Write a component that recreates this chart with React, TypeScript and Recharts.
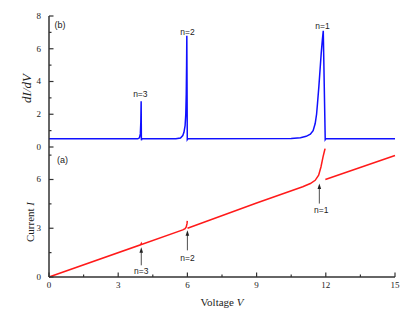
import React from 'react'
import { LineChart, Line, XAxis, YAxis, ReferenceLine, ReferenceDot } from 'recharts'

// upper panel: dI/dV against V
const topV = [0, 3.85, 3.92, 3.96, 3.98, 3.995, 4.005, 4.03, 5.5, 5.7, 5.8, 5.85, 5.9, 5.93, 5.95, 5.965, 5.975, 5.995, 6.02, 10.5, 10.9, 11.15, 11.33, 11.45, 11.54, 11.6, 11.64, 11.7, 11.76, 11.8, 11.85, 11.89, 11.975, 12.0, 15]
const topG = [0.5, 0.5, 0.56, 0.8, 1.5, 2.8, 0.42, 0.5, 0.5, 0.55, 0.7, 0.9, 1.3, 2.0, 3.2, 5.0, 6.8, 0.45, 0.5, 0.52, 0.57, 0.65, 0.78, 1.0, 1.43, 2.0, 2.66, 3.7, 4.9, 5.7, 6.53, 7.1, 0.45, 0.5, 0.5]

// lower panel: current I against V (null = break in the curve)
const botV = [0, 3.97, 4.0, 4.01, 5.8, 5.9, 5.95, 5.985, 5.995, 6.0, 6.005, 9, 11, 11.33, 11.54, 11.69, 11.79, 11.88, 11.95, 11.97, 11.975, 11.98, 15]
const botI = [0, 1.98, 2.06, 2.0, 2.9, 2.98, 3.08, 3.3, 3.45, null, 3.0, 4.55, 5.55, 5.75, 5.95, 6.26, 6.77, 7.39, 7.8, 7.9, null, 6.0, 7.48]

const xTicks = [0, 1.5, 3, 4.5, 6, 7.5, 9, 10.5, 12, 13.5, 15]
const xMajor = [0, 3, 6, 9, 12, 15]
const topYTicks = [0, 1, 2, 3, 4, 5, 6, 7, 8]
const topYMajor = [0, 2, 4, 6, 8]
const botYTicks = [0, 1.5, 3, 4.5, 6, 7.5]
const botYMajor = [0, 3, 6]

const topData = topV.map((v, i) => ({ v, g: topG[i] }))
const botData = botV.map((v, i) => ({ v, i: botI[i] }))

const serif = '"Liberation Serif", "Times New Roman", serif'
const sans = '"Liberation Sans", Arial, sans-serif'
const ink = '#333'

// inward pointing ticks, labels only where showLabels is set
function makeTick(side: 'left' | 'right' | 'top' | 'bottom', majors: number[], showLabels = false) {
  return (props: any) => {
    const { x, y, payload } = props
    const val = payload.value
    const major = majors.includes(val)
    const len = major ? 4.5 : 2.5
    let x2 = x, y2 = y
    if (side === 'left') x2 = x + len
    if (side === 'right') x2 = x - len
    if (side === 'top') y2 = y + len
    if (side === 'bottom') y2 = y - len
    return (
      <g>
        <line x1={x} y1={y} x2={x2} y2={y2} stroke={ink} strokeWidth={1.2} />
        {showLabels && major && side === 'left' && (
          <text x={x - 8} y={y} dy="0.33em" textAnchor="end" fontFamily={serif} fontSize={9} fill="#222">{val}</text>
        )}
        {showLabels && major && side === 'bottom' && (
          <text x={x} y={y + 11} textAnchor="middle" fontFamily={serif} fontSize={9} fill="#222">{val}</text>
        )}
      </g>
    )
  }
}

const note = (text: string, size = 8.5) => (p: any) => (
  <text x={p.cx} y={p.cy} dy="0.35em" textAnchor="middle" fontFamily={sans} fontSize={size} fill="#222">{text}</text>
)

const arrow = (p: any) => (
  <g>
    <line x1={p.x1} y1={p.y1} x2={p.x2} y2={p.y2 + 4} stroke="#222" strokeWidth={0.8} />
    <path d={`M${p.x2},${p.y2} L${p.x2 - 1.8},${p.y2 + 5.5} L${p.x2 + 1.8},${p.y2 + 5.5} Z`} fill="#222" />
  </g>
)

const topTitle = (p: any) => {
  const vb = p.viewBox || { x: 0, y: 16, width: 49, height: 131 }
  const cx = vb.x + 31
  const cy = vb.y + vb.height / 2 + 7
  return (
    <text x={cx} y={cy} transform={`rotate(-90, ${cx}, ${cy})`} textAnchor="middle" fontFamily={serif} fontStyle="italic" fontSize={13} fill="#222">dI/dV</text>
  )
}

const botTitle = (p: any) => {
  const vb = p.viewBox || { x: 0, y: 7, width: 49, height: 130 }
  const cx = vb.x + 34
  const cy = vb.y + vb.height / 2 + 10
  return (
    <text x={cx} y={cy} transform={`rotate(-90, ${cx}, ${cy})`} textAnchor="middle" fontFamily={serif} fontSize={11} fill="#222">
      Current <tspan fontStyle="italic">I</tspan>
    </text>
  )
}

const xTitle = (p: any) => {
  const vb = p.viewBox || { x: 49, y: 137, width: 346, height: 42 }
  return (
    <text x={vb.x + vb.width / 2} y={vb.y + 29} textAnchor="middle" fontFamily={serif} fontSize={11} fill="#222">
      Voltage <tspan fontStyle="italic">V</tspan>
    </text>
  )
}

export default function App() {
  return (
    <div style={{ position: 'absolute', left: 0, top: 0, width: 415, height: 319, background: '#fff' }}>
      <div style={{ position: 'absolute', left: 0, top: 0 }}>
        <LineChart width={415} height={162} data={topData} margin={{ top: 16, right: 20, bottom: 15, left: 0 }}>
          <XAxis dataKey="v" type="number" domain={[0, 15]} ticks={xTicks} interval={0} height={0}
            stroke={ink} axisLine={{ strokeWidth: 1.5 }} tickLine={false} tickSize={0} tickMargin={0}
            tick={makeTick('bottom', xMajor)} />
          <XAxis xAxisId="t" orientation="top" dataKey="v" type="number" domain={[0, 15]} ticks={xTicks} interval={0} height={0}
            stroke={ink} axisLine={{ strokeWidth: 1.5 }} tickLine={false} tickSize={0} tickMargin={0}
            tick={makeTick('top', xMajor)} />
          <YAxis type="number" domain={[0, 8]} ticks={topYTicks} interval={0} width={49}
            stroke={ink} axisLine={{ strokeWidth: 1.5 }} tickLine={false} tickSize={0} tickMargin={0}
            tick={makeTick('left', topYMajor, true)} label={topTitle} />
          <YAxis yAxisId="r" orientation="right" type="number" domain={[0, 8]} ticks={topYTicks} interval={0} width={0}
            stroke={ink} axisLine={{ strokeWidth: 1.5 }} tickLine={false} tickSize={0} tickMargin={0}
            tick={makeTick('right', topYMajor)} />
          <Line type="linear" dataKey="g" stroke="#1010ff" strokeWidth={1.5} dot={false} isAnimationActive={false} />
          <ReferenceDot x={0.48} y={7.45} r={0} shape={note('(b)', 9)} />
          <ReferenceDot x={3.96} y={3.23} r={0} shape={note('n=3')} />
          <ReferenceDot x={6.0} y={7.02} r={0} shape={note('n=2')} />
          <ReferenceDot x={11.86} y={7.41} r={0} shape={note('n=1')} />
        </LineChart>
      </div>
      <div style={{ position: 'absolute', left: 0, top: 140 }}>
        <LineChart width={415} height={179} data={botData} margin={{ top: 7, right: 20, bottom: 0, left: 0 }}>
          <XAxis dataKey="v" type="number" domain={[0, 15]} ticks={xTicks} interval={0} height={42}
            stroke={ink} axisLine={{ strokeWidth: 1.5 }} tickLine={false} tickSize={0} tickMargin={0}
            tick={makeTick('bottom', xMajor, true)} label={xTitle} />
          <XAxis xAxisId="t" orientation="top" dataKey="v" type="number" domain={[0, 15]} ticks={xTicks} interval={0} height={0}
            stroke={ink} axisLine={{ strokeWidth: 1.5 }} tickLine={false} tickSize={0} tickMargin={0}
            tick={makeTick('top', xMajor)} />
          <YAxis type="number" domain={[0, 8]} ticks={botYTicks} interval={0} width={49}
            stroke={ink} axisLine={{ strokeWidth: 1.5 }} tickLine={false} tickSize={0} tickMargin={0}
            tick={makeTick('left', botYMajor, true)} label={botTitle} />
          <YAxis yAxisId="r" orientation="right" type="number" domain={[0, 8]} ticks={botYTicks} interval={0} width={0}
            stroke={ink} axisLine={{ strokeWidth: 1.5 }} tickLine={false} tickSize={0} tickMargin={0}
            tick={makeTick('right', botYMajor)} />
          <Line type="linear" dataKey="i" stroke="#ff1a1a" strokeWidth={1.5} dot={false} connectNulls={false} isAnimationActive={false} />
          <ReferenceDot x={0.59} y={7.23} r={0} shape={note('(a)', 9)} />
          <ReferenceLine segment={[{ x: 4, y: 0.72 }, { x: 4, y: 1.83 }]} shape={arrow} />
          <ReferenceLine segment={[{ x: 6, y: 1.64 }, { x: 6, y: 2.87 }]} shape={arrow} />
          <ReferenceLine segment={[{ x: 11.72, y: 4.52 }, { x: 11.72, y: 5.75 }]} shape={arrow} />
          <ReferenceDot x={4.0} y={0.37} r={0} shape={note('n=3')} />
          <ReferenceDot x={6.0} y={1.19} r={0} shape={note('n=2')} />
          <ReferenceDot x={11.8} y={4.15} r={0} shape={note('n=1')} />
        </LineChart>
      </div>
    </div>
  )
}
